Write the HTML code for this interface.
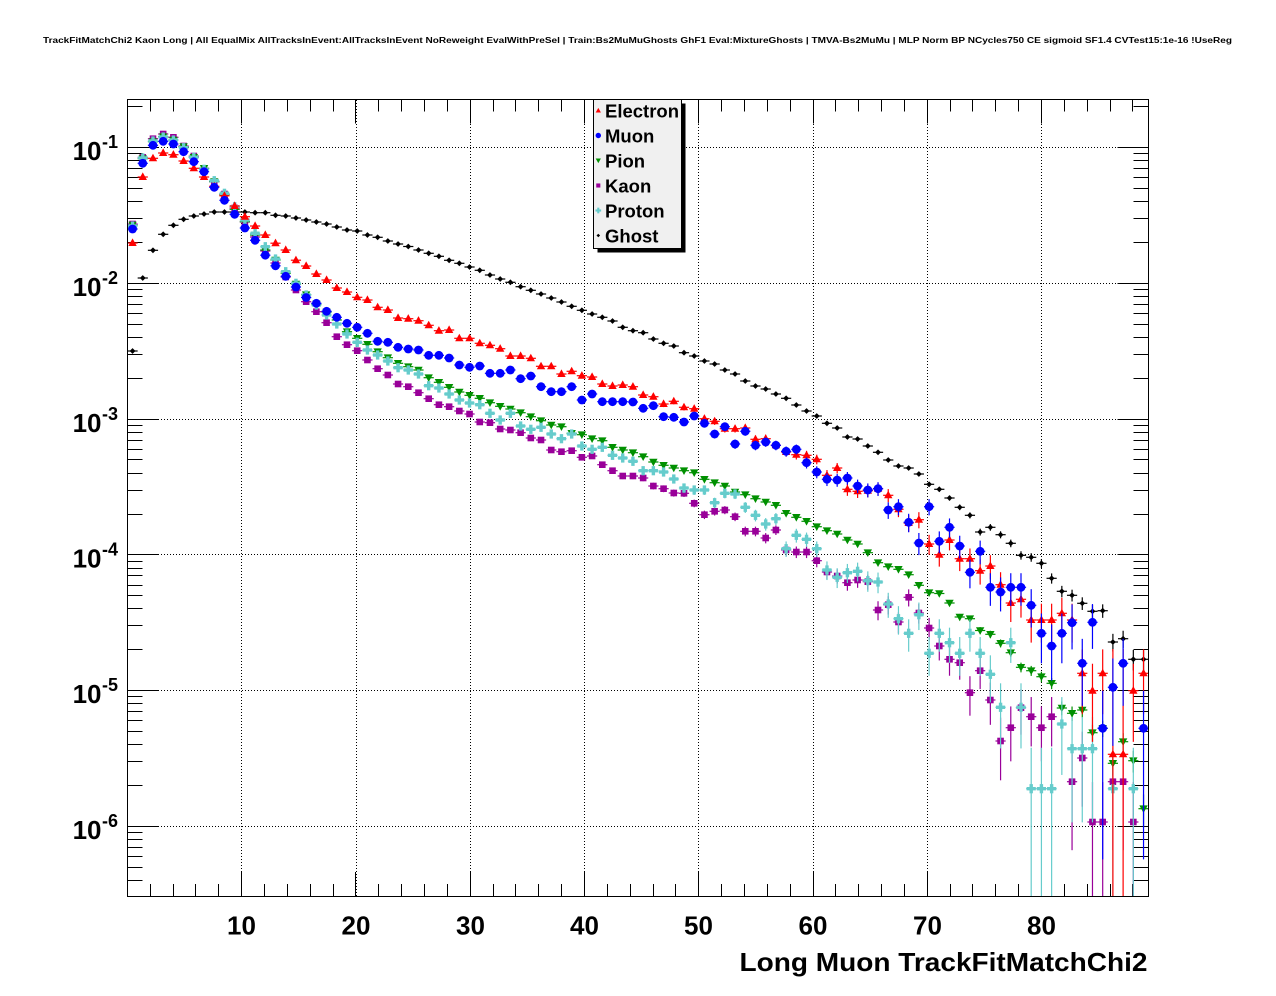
<!DOCTYPE html>
<html><head><meta charset="utf-8">
<style>
html,body{margin:0;padding:0;background:#fff;}
svg{display:block;}
text{font-family:"Liberation Sans",Arial,sans-serif;font-weight:bold;fill:#000;}
</style></head><body>
<svg id="s" width="1276" height="996" viewBox="0 0 1276 996" xmlns="http://www.w3.org/2000/svg">
<rect width="1276" height="996" fill="#fff"/>
<text x="43" y="43" font-size="8.6" textLength="1189" lengthAdjust="spacingAndGlyphs">TrackFitMatchChi2 Kaon Long | All EqualMix AllTracksInEvent:AllTracksInEvent NoReweight EvalWithPreSel | Train:Bs2MuMuGhosts GhF1 Eval:MixtureGhosts | TMVA-Bs2MuMu | MLP Norm BP NCycles750 CE sigmoid SF1.4 CVTest15:1e-16 !UseReg</text>
<g stroke="#000" stroke-width="1" stroke-dasharray="1,2" fill="none">
<line x1="241.5" y1="100" x2="241.5" y2="896"/>
<line x1="356.5" y1="100" x2="356.5" y2="896"/>
<line x1="470.5" y1="100" x2="470.5" y2="896"/>
<line x1="584.5" y1="100" x2="584.5" y2="896"/>
<line x1="698.5" y1="100" x2="698.5" y2="896"/>
<line x1="813.5" y1="100" x2="813.5" y2="896"/>
<line x1="927.5" y1="100" x2="927.5" y2="896"/>
<line x1="1041.5" y1="100" x2="1041.5" y2="896"/>
<line x1="128" y1="147.5" x2="1148" y2="147.5"/>
<line x1="128" y1="283.5" x2="1148" y2="283.5"/>
<line x1="128" y1="419.5" x2="1148" y2="419.5"/>
<line x1="128" y1="554.5" x2="1148" y2="554.5"/>
<line x1="128" y1="690.5" x2="1148" y2="690.5"/>
<line x1="128" y1="826.5" x2="1148" y2="826.5"/>
</g>
<g id="ticks" stroke="#000" stroke-width="1"></g>
<g id="data"></g>
<rect x="127.5" y="99.5" width="1021" height="797" fill="none" stroke="#000" stroke-width="1"/>
<!-- legend -->
<rect x="597.5" y="103.5" width="88" height="149" fill="#000"/>
<rect x="593.5" y="99.5" width="88" height="149" fill="#f0f0f0" stroke="#000" stroke-width="1"/>
<g id="legm"></g>
<g font-size="18.5">
<text x="605" y="117.3">Electron</text>
<text x="605" y="142.3">Muon</text>
<text x="605" y="167.3">Pion</text>
<text x="605" y="192.3">Kaon</text>
<text x="605" y="217.3">Proton</text>
<text x="605" y="242.3">Ghost</text>
</g>
<!-- y labels -->
<g font-size="26" text-anchor="end">
<text x="101.5" y="160">10</text>
<text x="101.5" y="296">10</text>
<text x="101.5" y="432">10</text>
<text x="101.5" y="567.5">10</text>
<text x="101.5" y="703">10</text>
<text x="101.5" y="839">10</text>
</g>
<g font-size="18">
<text x="102" y="148">-1</text>
<text x="102" y="284">-2</text>
<text x="102" y="420">-3</text>
<text x="102" y="555.5">-4</text>
<text x="102" y="691">-5</text>
<text x="102" y="827">-6</text>
</g>
<!-- x labels -->
<g font-size="26" text-anchor="middle">
<text x="241.5" y="934.5">10</text>
<text x="356" y="934.5">20</text>
<text x="470.5" y="934.5">30</text>
<text x="584.5" y="934.5">40</text>
<text x="698.5" y="934.5">50</text>
<text x="813" y="934.5">60</text>
<text x="927.5" y="934.5">70</text>
<text x="1041.5" y="934.5">80</text>
</g>
<text x="1147.5" y="971" font-size="26" text-anchor="end" textLength="408" lengthAdjust="spacingAndGlyphs">Long Muon TrackFitMatchChi2</text>
</svg>
<script>
(function(){
const NS="http://www.w3.org/2000/svg";
function el(n,a,p){const e=document.createElementNS(NS,n);for(const k in a)e.setAttribute(k,a[k]);p.appendChild(e);return e;}
const tg=document.getElementById('ticks');
const Y0=147,D=135.8,TOP=99.5,BOT=896,L=127.5,R=1148.5;
for(let k=-7;k<=0;k++){for(let m=1;m<=9;m++){
  const v=m*Math.pow(10,k);const y=Y0-(Math.log10(v)+1)*D;
  if(y<TOP+1||y>BOT-1)continue;
  const yy=Math.round(y)+0.5;const len=(m==1)?31:15;
  el('line',{x1:L,y1:yy,x2:L+len,y2:yy},tg);
  el('line',{x1:R-len,y1:yy,x2:R,y2:yy},tg);
}}
for(let v=2;v<=88;v+=2){
  const x=Math.round(127.44+11.426*v-0.5)+0.5;const len=(v%10==0)?24:12;
  el('line',{x1:x,y1:BOT,x2:x,y2:BOT-len},tg);
  el('line',{x1:x,y1:TOP,x2:x,y2:TOP+len},tg);
}
const n=null;
const RED=[243,177,158.3,153,154.7,161,168.3,177,186.3,195.8,206,216.7,226,235,243.2,250,260.2,266,274,
280,288,292,297.3,300,307.3,310,318,
318.7,320.7,325.3,330.7,330,338.3,338.3,343.3,345.3,348.7,356,356,358.3,366.3,366.3,374,371.3,375.7,377,384,386,385,386.7,395,396.7,404,401.3,
407.3,408.7,418.7,421.3,428.7,428.7,428,439.3,438.7,445.3,452,454.7,455.3,459.3,475.3,468,489.3,491.3,490.7,488.7,495.3,509.3,523,519.7,
544,554.7,540,558.7,558.7,570.7,566,584.7,603,599.3,620,620,620,613.3,620,
673.3,690.7,673.3,754.3,754.3,690.7,673.3];
const BLU=[229,163.3,145.3,141.3,144,151.7,161.7,171.7,187.3,200.3,214.3,228,240.3,255.2,265.8,276.3,287,297.5,303.3,311.3,317.3,323.3,327.3,333.3,341.3,342.3,347.3,349,
350,355.3,355.3,358,365,367.3,366,373.3,373.3,370,378.7,376,386.7,391.7,391.7,386.7,400,394,401.7,401.7,401.7,402,408.3,405.7,416.7,
417.3,422,416,423.3,434,426.7,444,431.3,445.3,442,445.3,451.3,449.3,462.7,472,479.3,480,478,486,490,488.7,510,506.7,522.3,543,
506.7,541.3,527.3,546,572.3,551.3,587.3,592,587.3,587.3,605.3,633.3,646,633.3,622.7,
663.3,622.3,728.3,687.3,663.3,n,728.3];
const GRN=[225,158.7,141.7,136.7,140,146.7,157.3,168.3,181.7,195,209.3,221.7,235,250,260,273.3,284,
294.7,304,312,320,331.7,338.3,344.3,351.7,357.7,363.3,
366.7,370,377.7,382.3,387.3,392,395.3,398.3,402.7,406.3,409,412.7,416.7,420.7,425,426.7,433.3,434.7,438.7,440.7,447.3,450,452.7,456.7,462,465.3,
468,470.7,472.7,479.3,482.7,486,492,494.7,498.7,502,505.3,513.3,517.3,521.3,526.7,530.7,534,540,544,552.7,562.7,566.7,569.3,574.7,585.3,
592.7,593.5,603,617,618.7,630.5,634.3,643.3,652.7,667.3,670.7,676.7,683.3,708,713.3,710,732.7,728.3,763.3,741.7,760.7,808.7];
const CYA=[226,158,141,137,140,147.7,157.3,169.3,180.7,193.3,206.7,220,233.3,246.7,259,271.7,283.3,295,305,
315,324,334,342.3,350,355,361,367.7,
370,374,385.7,388,394,400,403,404.7,413.3,420,413.3,426,429.3,427.3,434,438.7,434,446,449.3,447.3,455.3,458,461.3,470.7,470.7,472,
479,488,490,490,502.7,493.3,494,507.3,515.3,524,518.7,548.7,535.3,539.3,548.7,570,577.3,572.7,571.3,580.7,582,604,618.7,633.3,614.7,
653.3,633.3,642.7,653.3,633.3,653.3,674.3,707.3,642.7,707.3,788.7,788.7,788.7,724,748.7,748.7,748.7,n,788.7,n,788.7,n];
const PUR=[224,157.3,138.7,134,137.3,146,156,168.3,181.7,194,208,222,237,251,263,277,290,
301.7,311.7,322.7,336.7,344.7,350.7,360,368.7,375,384,
386.7,392.7,398.7,404.7,406.7,411,414,422,422.7,429,430,432.7,438,440,450,451.7,450.7,457.3,456,464.7,470.7,476,476,478,486,488.7,
493,493.3,503.3,514.7,511.3,510,516.7,531.3,531.3,538,530,550,552,552,560.7,572,576,582.7,580,581.7,610,604.7,622,597.3,613,
628,646,659.3,662.7,692.7,670.7,700,741,727.7,707.7,716.7,727.7,716.7,n,781.7,758,822,822,781.7,781.7,822,n];
const BLK=[351,278,250.3,234.3,225.3,219.3,216,214,212,212,212,212,212.7,212.7,215.3,216,218,220,222,224,227,230,231,235,237.3,241,244,246.5,
250,253.3,256.3,260.3,263.3,267,270.3,275,279,282.3,286.7,290.3,294,298,302,306.3,310.3,314,317.3,321,327.3,330.7,332.7,339,343.3,
346,352.7,356,361,364,370,374,381,386,389,394,398.3,405,411,416,423.3,428,437,439,446,452.3,460,466,468,474,
484.3,489.3,498,507.3,515.3,532,527.3,534.7,543.3,555.3,557.3,563.3,578.3,591.3,595.3,603.3,611.3,610.7,642,638.7,659.3,659.3];
function marker(p,t,cx,cy,c,sc){
  sc=sc||1;
  if(t=='tu'){el('polygon',{points:`${cx},${cy-4.6*sc} ${cx-4.2*sc},${cy+3*sc} ${cx+4.2*sc},${cy+3*sc}`,fill:c},p);}
  else if(t=='td'){el('polygon',{points:`${cx-4.2*sc},${cy-3.3*sc} ${cx+4.2*sc},${cy-3.3*sc} ${cx},${cy+4.3*sc}`,fill:c},p);}
  else if(t=='ci'){el('circle',{cx:cx,cy:cy,r:4.4*sc,fill:c},p);}
  else if(t=='sq'){const h=3.3*sc;el('rect',{x:cx-h,y:cy-h,width:2*h,height:2*h,fill:c},p);}
  else if(t=='cr'){const a=4.6*sc,b=1.7*sc;el('rect',{x:cx-a,y:cy-b,width:2*a,height:2*b,fill:c},p);el('rect',{x:cx-b,y:cy-a,width:2*b,height:2*a,fill:c},p);}
  else if(t=='di'){const a=2.9*sc;el('polygon',{points:`${cx},${cy-a} ${cx+a},${cy} ${cx},${cy+a} ${cx-a},${cy}`,fill:c},p);}
}
const S=[
 {d:BLK,c:'#000000',n:2e6,m:'di'},
 {d:PUR,c:'#990099',n:1e6,m:'sq'},
 {d:GRN,c:'#009000',n:1e7,m:'td'},
 {d:CYA,c:'#66cccc',n:5.3e5,m:'cr'},
 {d:RED,c:'#ff0000',n:3e5,m:'tu',ov:{96:649,97:649}},
 {d:BLU,c:'#0000ff',n:2.4e5,m:'ci'}
];
const dg=document.getElementById('data');
for(const s of S){
  const g=el('g',{stroke:s.c,'stroke-width':1.2},dg);
  const gm=el('g',{},dg);
  for(let i=0;i<100;i++){
    const y=s.d[i];if(y==null)continue;
    const cx=132.55+10.212*i;
    const v=Math.pow(10,-1-(y-Y0)/D);const N=v*s.n;const sig=1/Math.sqrt(N);
    let up=y-D*Math.log10(1+sig);
    let dn=(sig>=0.999)?BOT:y-D*Math.log10(1-sig);
    if(s.ov&&s.ov[i]!=null)up=s.ov[i];
    up=Math.max(TOP,up);dn=Math.min(BOT,dn);
    el('line',{x1:cx-5.1,y1:y,x2:cx+5.1,y2:y},g);
    el('line',{x1:cx,y1:up,x2:cx,y2:dn},g);
    marker(gm,s.m,cx,y,s.c);
  }
}
const lg=document.getElementById('legm');
const LM=[['tu','#ff0000',110.7],['ci','#0000ff',135.5],['td','#009000',160.5],['sq','#990099',185.5],['cr','#66cccc',210.5],['di','#000000',235.5]];
for(const q of LM)marker(lg,q[0],598.3,q[2],q[1],0.62);
})();
</script>
</body></html>
